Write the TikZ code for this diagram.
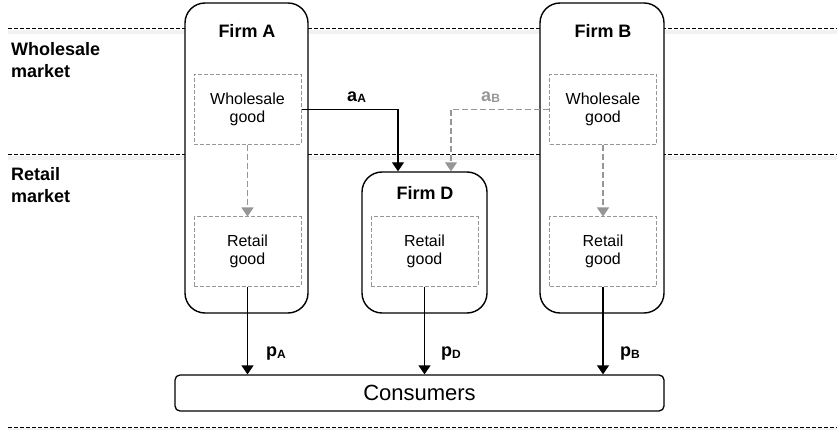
\documentclass[tikz,border=0pt]{standalone}
\usepackage{fontspec}
\setmainfont{Liberation Sans}
\usetikzlibrary{arrows.meta,calc}

\definecolor{boxgray}{RGB}{150,150,150}
\newcommand\lblsub[2]{\textbf{#1}\raisebox{-1.5pt}{\fontsize{12}{14}\selectfont\bfseries #2}}

\begin{document}
\begin{tikzpicture}[x=1pt,y=-1pt,
  firm/.style={draw, line width=1.4pt, rounded corners=20pt, fill=white, inner sep=0pt},
  title/.style={font=\fontsize{18}{22}\selectfont\bfseries, inner sep=0pt, anchor=base},
  side/.style={font=\fontsize{18}{22}\selectfont\bfseries, inner sep=0pt, anchor=base west},
  good/.style={draw=boxgray, dash pattern=on 4pt off 2pt, line width=1pt,
    minimum width=107pt, minimum height=70pt, align=center, inner sep=0pt,
    font=\fontsize{16}{18.5}\selectfont},
  sepline/.style={dash pattern=on 4pt off 2pt, line width=1pt},
  sepshadow/.style={line width=4pt, black, opacity=0.05},
  flow/.style={-{Triangle[width=12pt,length=9pt]}, line width=1.3pt},
  gflow/.style={-{Triangle[width=12pt,length=9pt]}, line width=1.3pt, draw=boxgray,
    dash pattern=on 6pt off 3pt},
  price/.style={font=\fontsize{18}{22}\selectfont, inner sep=0pt, anchor=base west}
]
\useasboundingbox (0,0) rectangle (837,430);

% market separators
\coordinate (s1l) at (8,29);   \coordinate (s1r) at (837,29);
\coordinate (s2l) at (8,155);  \coordinate (s2r) at (837,155);
\coordinate (s3l) at (8,427);  \coordinate (s3r) at (837,427);
\foreach \l/\r in {s1l/s1r,s2l/s2r,s3l/s3r}{
  \draw[sepshadow] ([yshift=-3pt]\l) -- ([yshift=-3pt]\r);
  \draw[sepline] (\l) -- (\r);
}

\node[side] (wm1) at (11,55.7) {Wholesale};
\node[side] (wm2) at (11,77.7) {market};
\node[side] (rm1) at (11,181) {Retail};
\node[side] (rm2) at (11,203) {market};

% firms
\node[firm, minimum width=123pt, minimum height=310pt] (fA) at (246.5,158) {};
\node[firm, minimum width=124pt, minimum height=310pt] (fB) at (602,158) {};
\node[firm, minimum width=125pt, minimum height=141pt] (fD) at (424.5,242.5) {};

\node[title] (tA) at (247,37.7) {Firm A};
\node[title] (tB) at (603,37.7) {Firm B};
\node[title] (tD) at (425,200) {Firm D};

% goods
\node[good] (wA) at (247.5,109.5) {Wholesale\\good};
\node[good, minimum height=69pt] (rA) at (247.5,251.5) {Retail\\good};
\node[good] (wB) at (603,109.5) {Wholesale\\good};
\node[good, minimum height=69pt] (rB) at (603,251.5) {Retail\\good};
\node[good, minimum height=69pt] (rD) at (424.5,251.5) {Retail\\good};

% consumers
\node[draw, line width=1.3pt, rounded corners=5pt, minimum width=489pt, minimum height=36pt,
  inner sep=0pt, font=\fontsize{22}{26}\selectfont] (cons) at (419.5,393) {Consumers};

% internal flows
\draw[gflow] (wA.south) -- (rA.north);
\draw[gflow] (wB.south) -- (rB.north);

% access flows to firm D
\coordinate (inA) at ([xshift=-26.5pt]fD.north);
\coordinate (inB) at ([xshift=26.5pt]fD.north);
\draw[flow] (wA.east) -| (inA);
\draw[gflow] (wB.west) -| (inB);
\node[price] (laA) at (347,101.5) {\lblsub{a}{A}};
\node[price, text=boxgray] (laB) at (481,101.5) {\lblsub{a}{B}};

% retail flows
\draw[flow] (rA.south) -- (rA.south |- cons.north);
\draw[flow] (rD.south) -- (rD.south |- cons.north);
\draw[flow] (rB.south) -- (rB.south |- cons.north);
\node[price] (lpA) at (266,356.5) {\lblsub{p}{A}};
\node[price] (lpD) at (441,356.5) {\lblsub{p}{D}};
\node[price] (lpB) at (620,356.5) {\lblsub{p}{B}};
\end{tikzpicture}
\end{document}
